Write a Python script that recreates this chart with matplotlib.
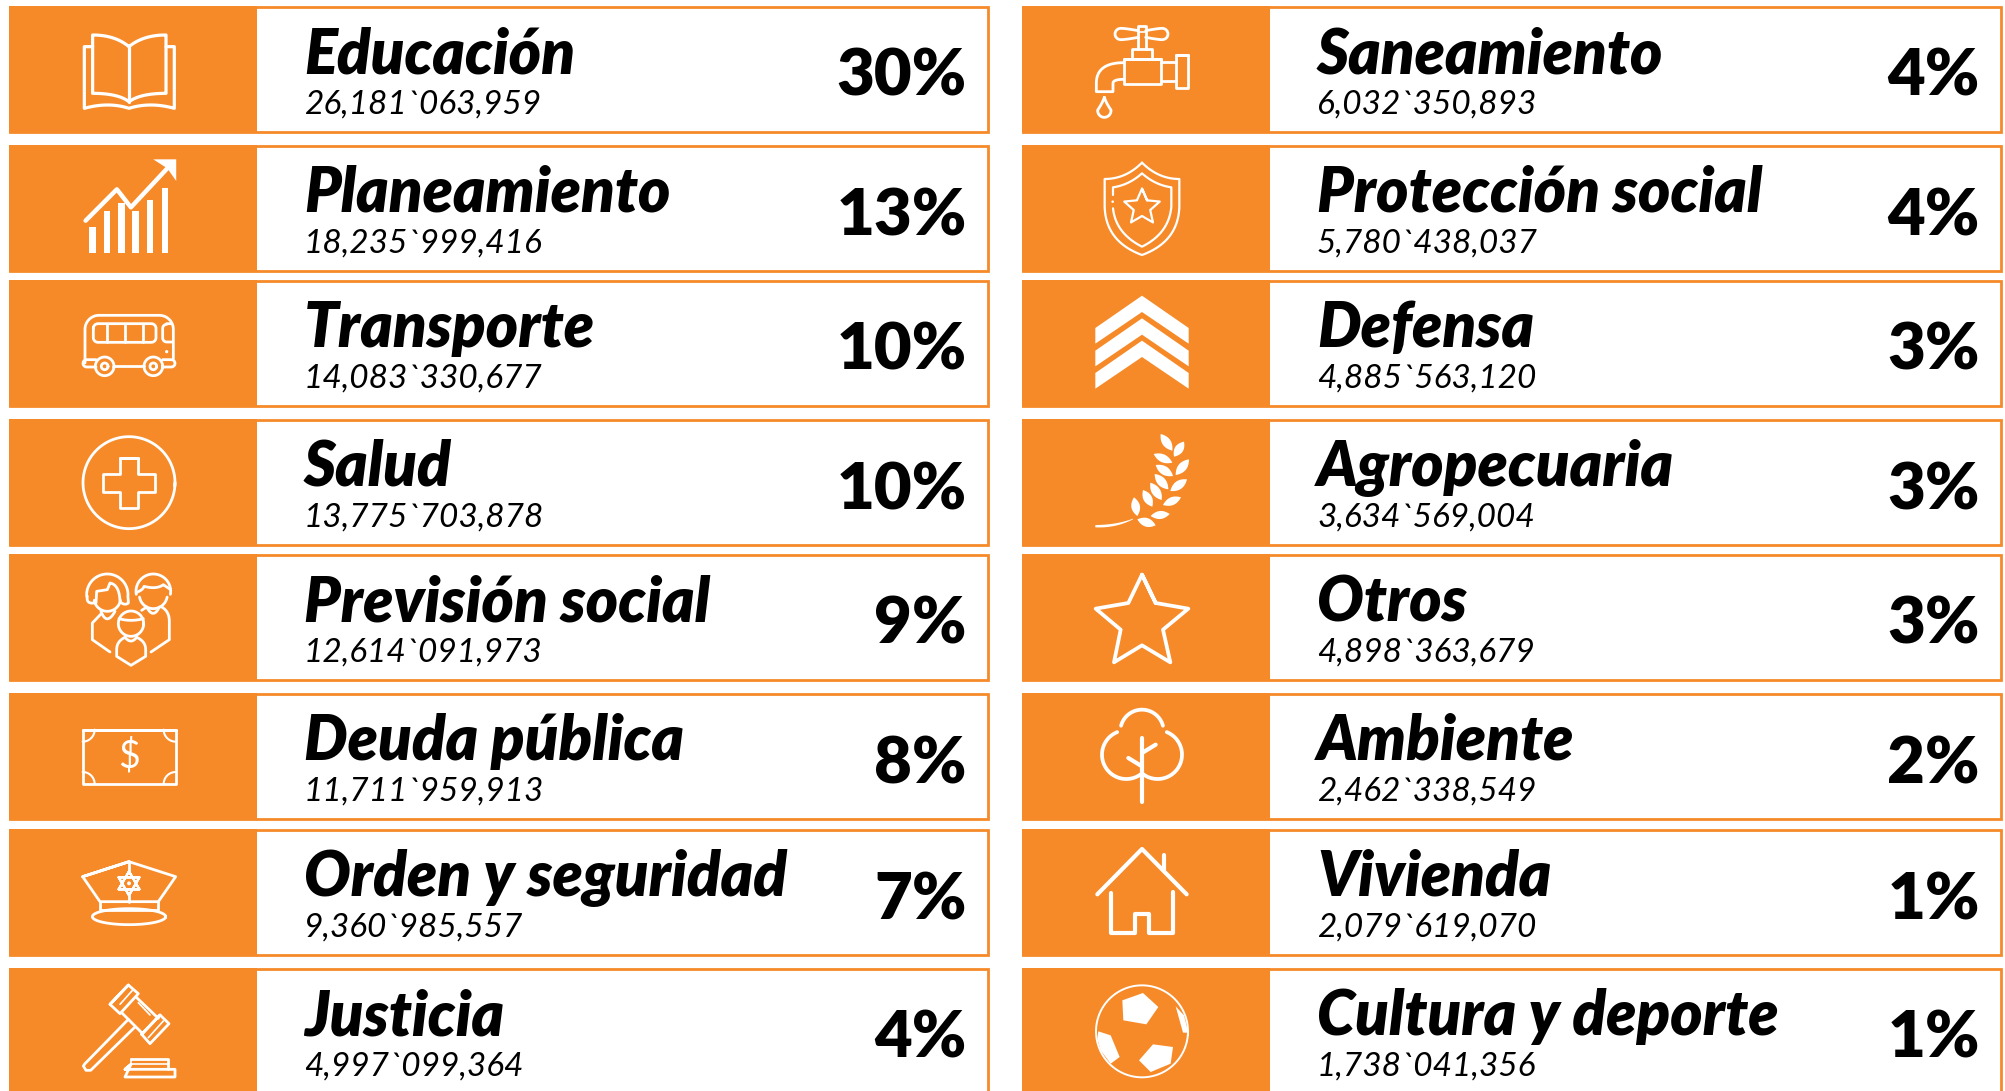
# -*- coding: utf-8 -*-
import numpy as np
import matplotlib
matplotlib.use('Agg')
import matplotlib.pyplot as plt
from matplotlib.patches import Polygon, Rectangle

ORANGE = '#F68A29'

names_left = ['Educación', 'Planeamiento', 'Transporte', 'Salud',
              'Previsión social', 'Deuda pública', 'Orden y seguridad', 'Justicia']
amounts_left = ['26,181`063,959', '18,235`999,416', '14,083`330,677', '13,775`703,878',
                '12,614`091,973', '11,711`959,913', '9,360`985,557', '4,997`099,364']
shares_left = [30, 13, 10, 10, 9, 8, 7, 4]

names_right = ['Saneamiento', 'Protección social', 'Defensa', 'Agropecuaria',
               'Otros', 'Ambiente', 'Vivienda', 'Cultura y deporte']
amounts_right = ['6,032`350,893', '5,780`438,037', '4,885`563,120', '3,634`569,004',
                 '4,898`363,679', '2,462`338,549', '2,079`619,070', '1,738`041,356']
shares_right = [4, 4, 3, 3, 3, 2, 1, 1]

row_tops = [6, 145, 280, 419, 554, 693, 829, 968]
row_height = 127
col_lefts = [9, 1022]
card_width = 980
band_width = 248
icon_offset = 120


def quad(a, c, b, n=24):
    t = np.linspace(0, 1, n)[:, None]
    a, c, b = np.array(a, float), np.array(c, float), np.array(b, float)
    return ((1 - t) ** 2 * a + 2 * t * (1 - t) * c + t ** 2 * b).tolist()


def arc(cx, cy, r, a0, a1, ry=None, n=60):
    # angles in degrees, y pointing down like the crops
    ry = r if ry is None else ry
    t = np.radians(np.linspace(a0, a1, n))
    return np.column_stack([cx + r * np.cos(t), cy + ry * np.sin(t)]).tolist()


def rrect(x0, y0, x1, y1, r):
    return (arc(x0 + r, y0 + r, r, 180, 270, n=8) + arc(x1 - r, y0 + r, r, 270, 360, n=8)
            + arc(x1 - r, y1 - r, r, 0, 90, n=8) + arc(x0 + r, y1 - r, r, 90, 180, n=8))


class Icon:
    # icons are traced in 3x crop pixels, x0/y0 is the anchor in that crop
    def __init__(self, ax, cx, top, x0, y0, sx=1 / 3):
        self.ax, self.cx, self.top, self.x0, self.y0, self.sx = ax, cx, top, x0, y0, sx

    def tr(self, pts):
        p = np.array(pts, float)
        return np.column_stack([self.cx + (p[:, 0] - self.x0) * self.sx,
                                self.top + (p[:, 1] - self.y0) / 3])

    def line(self, pts, lw=2.0, closed=False):
        p = self.tr(pts)
        if closed:
            p = np.vstack([p, p[:1], p[1:2]])
        self.ax.plot(p[:, 0], p[:, 1], color='white', lw=lw, solid_capstyle='round',
                     solid_joinstyle='round', zorder=4)

    def fill(self, pts):
        self.ax.add_patch(Polygon(self.tr(pts), closed=True, fc='white', ec='none', zorder=4))

    def leaf(self, a, b, w):
        a, b = np.array(a, float), np.array(b, float)
        m = (a + b) / 2
        d = b - a
        nrm = np.array([-d[1], d[0]]) / np.hypot(*d) * w
        self.fill(quad(a, m + nrm, b) + quad(b, m - nrm, a))


def book(ic):
    ic.sx = 1 / 1.567
    ic.line([(202, 135), (202, 305)], lw=2.3)
    ic.line(quad((202, 140), (180, 105), (145, 105)) + [(145, 280)]
            + quad((145, 280), (185, 280), (202, 305)), lw=2.3)
    ic.line(quad((202, 140), (224, 105), (260, 105)) + [(260, 280)]
            + quad((260, 280), (220, 280), (202, 305)), lw=2.3)
    ic.line([(145, 140), (132, 140), (132, 325)] + quad((132, 325), (170, 305), (202, 325))
            + quad((202, 325), (235, 305), (273, 325)) + [(273, 140), (260, 140)], lw=2.3)


def chart(ic):
    ic.sx = 1 / 1.567
    tops = [680, 632, 610, 632, 600, 565]
    for x, t in zip([145, 168, 190, 212, 235, 258], tops):
        ic.fill([(x - 5, t), (x + 5, t), (x + 5, 758), (x - 5, 758)])
    ic.line([(134, 662), (183, 568), (205, 622), (262, 505)], lw=3.2)
    ic.fill([(240, 478), (276, 478), (276, 543), (262, 505)])


def bus(ic):
    ic.line([(255, 280), (255, 180)] + arc(297, 179, 42, 180, 270)
            + arc(478, 179, 42, 270, 360) + [(520, 268)])
    ic.line(rrect(280, 162, 468, 218, 14), closed=True)
    for x in [320, 375, 428]:
        ic.line([(x, 162), (x, 218)])
    ic.line([(515, 162), (500, 162)] + arc(500, 176, 12, 270, 180, n=6)
            + [(488, 205)] + arc(500, 205, 12, 180, 90, n=6) + [(515, 217)])
    ic.fill(arc(500, 246, 5, 0, 360, n=12))
    for x in [314, 460]:
        ic.line(arc(x, 290, 28, 0, 360), closed=True)
        ic.line(arc(x, 290, 10, 0, 360), closed=True)
    ic.line([(342, 290), (432, 290)])
    ic.line([(288, 270), (260, 270)] + arc(260, 281, 11, 270, 90, n=10) + [(288, 292)])
    ic.line([(488, 270), (514, 270)] + arc(514, 281, 11, -90, 90, n=10) + [(488, 292)])


def health(ic):
    ic.line(arc(387, 638, 138, 0, 360, n=90), closed=True)
    ic.line([(360, 563), (414, 563), (414, 612), (465, 612), (465, 666), (414, 666), (414, 715),
             (360, 715), (360, 666), (310, 666), (310, 612), (360, 612)], closed=True)


def family(ic):
    # mother
    ic.line(arc(322, 975, 62, 175, 365) + [(385, 995)] + quad((385, 1000), (375, 1008), (362, 998)))
    ic.line(quad((262, 980), (258, 1003), (282, 1000)))
    ic.line(arc(322, 985, 40, 10, 170, n=20))
    ic.line([(288, 1000), (290, 965), (322, 960), (330, 940)] + quad((330, 940), (358, 945), (360, 995)))
    ic.line(quad((303, 1025), (320, 1070), (345, 1025)))
    ic.line([(303, 1033), (277, 1060), (277, 1110), (330, 1147)])
    # father
    ic.line(arc(460, 965, 52, 170, 370))
    ic.line(arc(460, 975, 42, 10, 170, n=20))
    ic.line(quad((410, 968), (430, 960), (432, 950)) + quad((432, 950), (470, 960), (490, 945))
            + [(512, 960)])
    ic.line(quad((440, 1012), (460, 1050), (478, 1012)))
    ic.line(quad((485, 1012), (508, 1025), (508, 1055)) + [(508, 1110), (453, 1147)])
    ic.line([(425, 1022), (440, 1012)])
    # child
    ic.line(arc(393, 1062, 38, 0, 360), closed=True)
    ic.line(quad((357, 1047), (393, 1057), (430, 1047)))
    ic.line(quad((375, 1103), (393, 1125), (410, 1103)))
    ic.line(quad((375, 1103), (350, 1115), (350, 1140)) + [(350, 1160), (393, 1187), (437, 1160)]
            + quad((437, 1140), (437, 1115), (410, 1103)))


def money(ic):
    ic.line([(248, 120), (527, 120), (527, 283), (248, 283)], closed=True)
    ic.line(arc(248, 120, 36, 0, 90, n=12), lw=1.5)
    ic.line(arc(527, 120, 36, 90, 180, n=12), lw=1.5)
    ic.line(arc(527, 283, 36, 180, 270, n=12), lw=1.5)
    ic.line(arc(248, 283, 36, 270, 360, n=12), lw=1.5)
    p = ic.tr([(387, 200)])[0]
    ic.ax.text(p[0], p[1], '$', color='white', ha='center', va='center', fontsize=27,
               family='Lato', weight='normal', zorder=4)


def hat(ic):
    ic.line([(248, 560), (387, 515), (527, 560), (475, 635), (300, 635)], closed=True)
    ic.line([(300, 635), (300, 660), (475, 660), (475, 635)])
    ic.line(arc(387, 680, 110, 0, 360, ry=24), closed=True)
    ic.line([(387, 515), (387, 548)])
    ic.line([(387, 613), (387, 635)])
    for a in [-90, 30, 150]:
        ic.line(arc(387, 580, 36, a, a + 360, n=4), lw=1.5, closed=True)
    for a in [90, 210, 330]:
        ic.line(arc(387, 580, 36, a, a + 360, n=4), lw=1.5, closed=True)
    ic.fill(arc(387, 580, 6, 0, 360, n=12))


def gavel(ic):
    ic.line([(385, 985), (255, 1118), (250, 1125), (258, 1138), (272, 1138), (405, 1008)])
    ic.line([(330, 940), (385, 882), (415, 908), (360, 968)], closed=True)
    ic.line([(425, 1030), (480, 972), (507, 998), (450, 1058)], closed=True)
    ic.line([(365, 965), (425, 1025)])
    ic.line([(408, 918), (475, 982)])
    ic.line([(415, 935), (450, 972)], lw=1.2)
    ic.line([(360, 940), (400, 895)], lw=1.2)
    ic.line([(445, 1040), (490, 990)], lw=1.2)
    ic.line([(393, 1105), (505, 1105), (505, 1135)])
    ic.line([(393, 1105), (393, 1120), (505, 1120)], lw=1.2)
    ic.line([(393, 1120), (375, 1135), (525, 1135), (525, 1158), (375, 1158)], closed=True)


def faucet(ic):
    ic.line(quad((388, 92), (350, 85), (335, 85)) + arc(335, 102, 17, 270, 90, n=10)
            + quad((335, 119), (350, 119), (388, 112)))
    ic.line(quad((410, 92), (448, 85), (460, 85)) + arc(460, 102, 17, -90, 90, n=10)
            + quad((460, 119), (448, 119), (410, 112)))
    ic.line([(388, 148), (388, 78), (410, 78), (410, 148)])
    ic.line([(388, 95), (410, 95)], lw=1.2)
    ic.line([(368, 178), (368, 148), (430, 148), (430, 178)])
    ic.line([(345, 178), (455, 178), (455, 253), (345, 253)], closed=True)
    ic.line([(455, 187), (500, 187)])
    ic.line([(455, 243), (500, 243)])
    ic.line([(500, 165), (538, 165), (538, 263), (500, 263)], closed=True)
    ic.line([(345, 188)] + quad((345, 188), (262, 188), (262, 250)) + [(262, 275), (312, 275), (312, 250)]
            + quad((312, 250), (312, 238), (345, 238)))
    ic.line(quad((286, 292), (280, 310), (266, 330)) + arc(286, 332, 20, 175, 5, n=20)
            + quad((306, 330), (292, 310), (286, 292)))


def shield(ic):
    ic.line(quad((399, 488), (350, 537), (287, 537)) + [(287, 620)]
            + quad((287, 620), (290, 725), (399, 765)) + quad((399, 765), (508, 725), (511, 620))
            + [(511, 537)] + quad((511, 537), (448, 537), (399, 488)), lw=1.6)
    ic.line([(312, 585), (312, 562)] + quad((312, 562), (360, 555), (399, 520))
            + quad((399, 520), (438, 555), (487, 562)) + [(487, 620)]
            + quad((487, 620), (480, 700), (399, 740)) + quad((399, 740), (320, 700), (312, 625)), lw=1.6)
    ic.fill(arc(311, 605, 4, 0, 360, n=10))
    pts = []
    for k in range(5):
        a = np.radians(-90 + 72 * k)
        pts.append((399 + 56 * np.cos(a), 622 + 56 * np.sin(a)))
        a = np.radians(-54 + 72 * k)
        pts.append((399 + 26 * np.cos(a), 622 + 26 * np.sin(a)))
    ic.line(pts, lw=1.6, closed=True)


def chevrons(ic):
    for dy in [0, 68, 135]:
        ic.fill([(259, 985 + dy), (399, 888 + dy), (539, 985 + dy), (539, 1032 + dy),
                 (399, 937 + dy), (259, 1032 + dy)])


def wheat(ic):
    ic.fill(quad((259, 345), (320, 345), (372, 326)) + quad((372, 328), (320, 355), (259, 352)))
    leaves = [((490, 122), (455, 72), 26), ((495, 140), (525, 95), 26), ((490, 158), (434, 132), 24),
              ((500, 195), (540, 148), 26), ((492, 198), (440, 165), 26), ((484, 243), (534, 208), 26),
              ((478, 238), (437, 192), 26), ((458, 270), (424, 218), 26), ((430, 290), (402, 240), 26),
              ((462, 285), (516, 262), 24), ((385, 318), (375, 262), 26), ((425, 318), (482, 312), 24),
              ((385, 328), (440, 346), 26)]
    for a, b, w in leaves:
        ic.leaf(a, b, w)


def star(ic):
    ic.line([(399, 495), (440, 580), (538, 597), (462, 660), (484, 758), (399, 707), (315, 758),
             (335, 660), (260, 597), (358, 580)], lw=2.7, closed=True)


def tree(ic):
    ic.line(arc(352, 1035, 73, 248, 50), lw=2.7)
    ic.line(arc(446, 1035, 73, -68, 130), lw=2.7)
    ic.line(arc(399, 965, 65, 195, 345), lw=2.7)
    ic.line([(399, 985), (399, 1178)], lw=3)
    ic.line([(399, 1030), (440, 1005)], lw=3)
    ic.line([(399, 1070), (358, 1045)], lw=3)


def house(ic):
    ic.line([(265, 283), (399, 147), (533, 283)], lw=3)
    ic.line([(465, 165), (465, 210)], lw=3)
    ic.line([(305, 280), (305, 398), (378, 398), (378, 343), (420, 343), (420, 398), (493, 398),
             (493, 275)], lw=3)


def ball(ic):
    ic.line(arc(399, 693, 138, 0, 360, n=90), lw=1.4, closed=True)
    ic.fill([(340, 600), (402, 578), (448, 620), (412, 672), (343, 660)])
    ic.fill([(432, 732), (492, 740), (485, 790), (425, 815), (390, 780)])
    ic.fill([(500, 618), (525, 645), (538, 697), (522, 697)])
    ic.fill([(268, 693), (305, 705), (332, 770), (305, 790), (275, 750), (265, 715)])


# anchor of every icon in its crop: (function, x0, y0)
icons_left = [(book, 202, 18), (chart, 202, 435), (bus, 387, 31), (health, 387, 447),
              (family, 387, 853), (money, 387, 10), (hat, 387, 417), (gavel, 387, 831)]
icons_right = [(faucet, 399, 18), (shield, 399, 435), (chevrons, 399, 841), (wheat, 399, 27),
               (star, 399, 433), (tree, 399, 850), (house, 399, 87), (ball, 399, 503)]


def draw_column(ax, left, names, amounts, shares, icons):
    for top, name, amount, share, (func, x0, y0) in zip(row_tops, names, amounts, shares, icons):
        ax.add_patch(Rectangle((left + 1, top + 1), card_width - 2, row_height - 2, fc='white',
                               ec=ORANGE, lw=2, zorder=1))
        ax.add_patch(Rectangle((left, top), band_width, row_height, fc=ORANGE, ec='none', zorder=2))
        func(Icon(ax, left + icon_offset, top, x0, y0))
        ax.text(left + band_width + 47, top + 67, name, fontsize=44.3, family='Lato', weight='heavy',
                style='italic', va='baseline', ha='left', color='black', zorder=3)
        ax.text(left + band_width + 47, top + 108, amount, fontsize=24, family='Lato',
                style='italic', va='baseline', ha='left', color='black', zorder=3)
        ax.text(left + 958, top + 90, '%d%%' % share, fontsize=47, family='Lato', weight='heavy',
                va='baseline', ha='right', color='black', zorder=3)


def main():
    fig = plt.figure(figsize=(20.06, 10.91), dpi=100)
    ax = fig.add_axes([0, 0, 1, 1])
    ax.set_xlim(0, 2006)
    ax.set_ylim(1091, 0)
    ax.axis('off')
    draw_column(ax, col_lefts[0], names_left, amounts_left, shares_left, icons_left)
    draw_column(ax, col_lefts[1], names_right, amounts_right, shares_right, icons_right)
    fig.savefig('out.png', dpi=100)


if __name__ == '__main__':
    main()
